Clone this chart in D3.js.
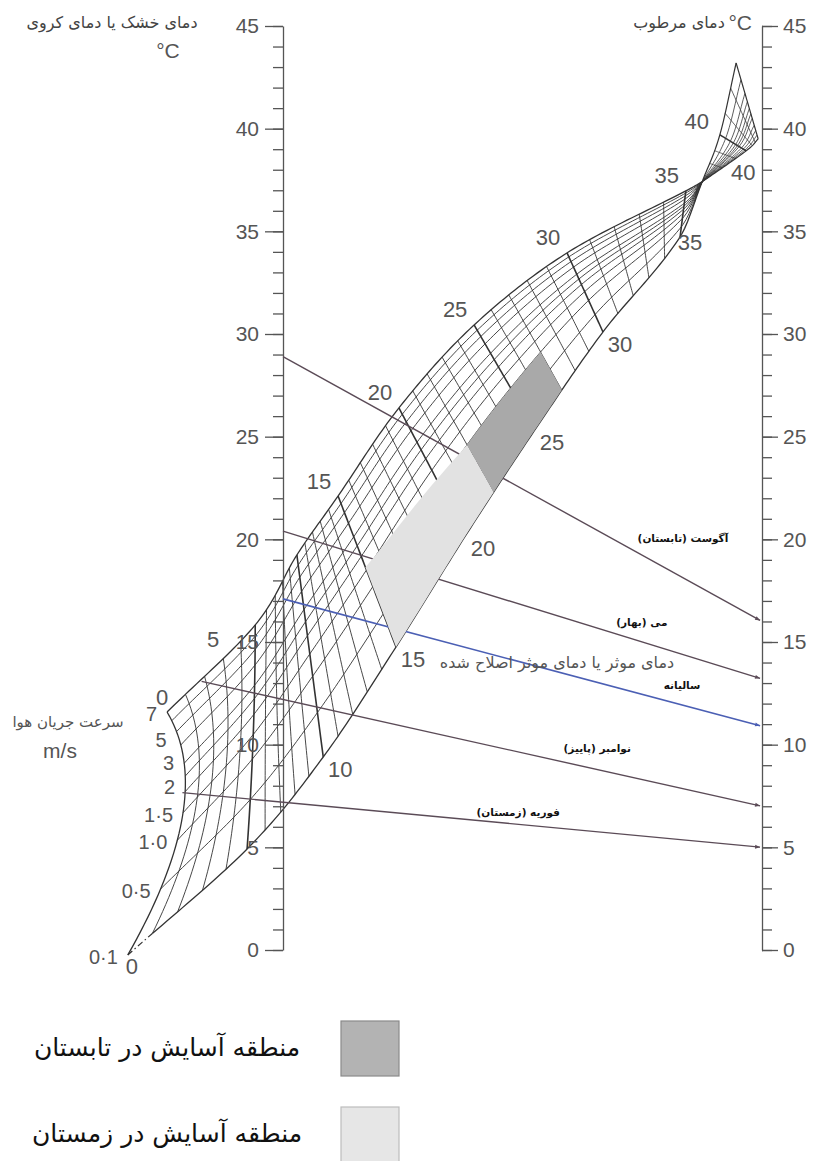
<!DOCTYPE html>
<html lang="fa">
<head>
<meta charset="UTF-8">
<title>نمودار دمای موثر اصلاح شده</title>
<script src="https://d3js.org/d3.v7.min.js"></script>
<style>
  body { margin: 0; background: #fff; overflow: hidden; }
  svg { display: block; }
  .axis path, .axis line { stroke: #555; stroke-width: 1.3; }
  .axis text, .num { font-family: "Liberation Sans", Arial, sans-serif; font-size: 21px; fill: #555; }
  .fa { font-family: "DejaVu Sans", sans-serif; direction: rtl; }
</style>
</head>
<body>
<svg id="chart" width="813" height="1161"></svg>
<script>
// ---------- data ----------
// both vertical scales in °C
const axisMajor = d3.range(0, 46, 5);
const axisMinor = d3.range(0, 46, 1);

// air speed curves (m/s) and where each sits across an ET line (0 = 0.1 m/s edge, 1 = 7 m/s edge)
const velocities  = [0.1, 0.5, 1.0, 1.5, 2.0, 2.5, 3.0, 4.0, 5.0, 6.0, 7.0];
const velocityPos = [0, 0.22, 0.40, 0.51, 0.60, 0.67, 0.73, 0.82, 0.89, 0.95, 1];
const velocityTicks  = [0.1, 0.5, 1.0, 1.5, 2, 3, 5, 7];
const velocityLabels = ["0·1", "0·5", "1·0", "1·5", "2", "3", "5", "7"];

// main band: effective temperature lines every 5°C, points as [u between scales, °C]
const etMajor = [0, 5, 10, 15, 20, 25, 30, 35, 36.5];
const etLow  = [[-0.324, -0.24], [-0.075, 4.92], [0.084, 9.40], [0.236, 14.76], [0.382, 20.21],
                [0.526, 25.33], [0.668, 30.10], [0.829, 34.73], [0.875, 37.41]];
const etHigh = [[-0.242, 11.59], [-0.058, 15.83], [0.029, 19.24], [0.115, 22.11], [0.242, 26.40],
                [0.399, 30.44], [0.593, 33.95], [0.841, 36.97], [0.875, 37.41]];
const etBend = [[-0.136, 7.45], [-0.058, 10.4], null, null, null, null, null, null, null];

// small tip above the point where all air speeds meet
const tipMajor = [36.5, 40, 43];
const tipLow  = [[0.875, 37.41], [0.912, 39.70], [0.946, 43.20]];
const tipHigh = [[0.875, 37.41], [0.967, 38.92], [0.992, 39.50]];

const etLabelsHigh = [0, 5, 15, 20, 25, 30, 35];
const etLabelsLow  = [0, 10, 15, 20, 25, 30, 35];

// month lines: dry bulb (left) to wet bulb (right)
const months  = ["آگوست (تابستان)", "می (بهار)", "سالیانه", "نوامبر (پاییز)", "فوریه (زمستان)"];
const dryBulb = [28.9, 20.4, 17.1, 12.2, 7.2];
const wetBulb = [16.0, 13.2, 10.9, 7.0, 5.0];

// comfort zones as [ET, air speed] corners
const summerZone = [[22, 0.1], [27, 0.1], [27, 1.0], [22, 1.0]];
const winterZone = [[15, 0.1], [22, 0.1], [22, 1.0], [15, 1.6]];

const legendItems = ["منطقه آسایش در تابستان", "منطقه آسایش در زمستان"];

// ---------- layout ----------
const lineStart = [0, 0, 0, -0.17, -0.21];
const monthLabelAt = [[0.835, 20.07], [0.749, 15.98], [0.833, 12.9], [0.656, 9.84], [0.491, 6.72]];
const lineColor = ["#5b4b57", "#5b4b57", "#4b5fb4", "#5b4b57", "#5b4b57"];
const velocityNudge = { 5: 6, 3: -2, 2: -7 };

const svg = d3.select("#chart");
const x = d3.scaleLinear().domain([0, 1]).range([283, 762]);
const y = d3.scaleLinear().domain([0, 45]).range([950, 26]);
const fOf = d3.scaleLinear().domain(velocities).range(velocityPos);
const toPx = p => [x(p[0]), y(p[1])];

const band = { E: etMajor, low: etLow, high: etHigh, bend: etBend };
const tip  = { E: tipMajor, low: tipLow, high: tipHigh, bend: null };

function majorNode(fam, i, f) {
  const L = fam.low[i], U = fam.high[i];
  const C = fam.bend && fam.bend[i] ? fam.bend[i] : [(L[0] + U[0]) / 2, (L[1] + U[1]) / 2];
  const a = (1 - f) * (1 - f), b = 2 * f * (1 - f), c = f * f;
  return [a * L[0] + b * C[0] + c * U[0], a * L[1] + b * C[1] + c * U[1]];
}

function meshPoint(fam, et, f) {
  const E = fam.E;
  const P = E.map((_, i) => majorNode(fam, i, f));
  let i = Math.min(Math.max(d3.bisectRight(E, et) - 1, 0), E.length - 2);
  const h = E[i + 1] - E[i], s = (et - E[i]) / h;
  const tan = k => {
    const k0 = Math.max(0, k - 1), k1 = Math.min(E.length - 1, k + 1);
    return [0, 1].map(d => (P[k1][d] - P[k0][d]) / (E[k1] - E[k0]));
  };
  const m0 = tan(i), m1 = tan(i + 1);
  const s2 = s * s, s3 = s2 * s;
  const h00 = 2 * s3 - 3 * s2 + 1, h10 = s3 - 2 * s2 + s, h01 = -2 * s3 + 3 * s2, h11 = s3 - s2;
  return [0, 1].map(d => h00 * P[i][d] + h10 * h * m0[d] + h01 * P[i + 1][d] + h11 * h * m1[d]);
}

const line = d3.line();
const etPath = (fam, et) => line(d3.range(0, 41).map(k => toPx(meshPoint(fam, et, k / 40))));
function vPath(fam, v, e0, e1) {
  const f = fOf(v), n = Math.ceil((e1 - e0) / 0.2);
  return line(d3.range(n + 1).map(k => toPx(meshPoint(fam, e0 + (e1 - e0) * k / n, f))));
}

// ---------- mesh ----------
const mesh = svg.append("g").attr("fill", "none").attr("stroke", "#333");

d3.range(0, 37).forEach(et => {
  mesh.append("path").attr("d", etPath(band, et))
    .attr("stroke-width", et === 0 ? 1.3 : (et % 5 === 0 ? 1.6 : 0.9));
});
d3.range(37, 44).forEach(et => {
  mesh.append("path").attr("d", etPath(tip, et))
    .attr("stroke-width", et === 40 ? 1.5 : (et === 43 ? 1.2 : 0.8));
});
velocities.forEach(v => {
  const edge = v === 0.1 || v === 7;
  mesh.append("path").attr("d", vPath(band, v, v === 0.1 ? 1 : 0, 36.5))
    .attr("stroke-width", edge ? 1.3 : 0.9);
  mesh.append("path").attr("d", vPath(tip, v, 36.5, 43))
    .attr("stroke-width", edge ? 1.2 : 0.8);
});
mesh.append("path").attr("d", vPath(band, 0.1, 0, 1))
  .attr("stroke-width", 1.2).attr("stroke-dasharray", "6,3,1.5,3");

// ---------- axes ----------
function axis(gen, ux, size, labels, pad) {
  const g = svg.append("g").attr("class", "axis").attr("transform", `translate(${x(ux)},0)`)
    .call(gen(y).tickValues(labels ? axisMajor : axisMinor).tickSize(size).tickSizeOuter(0)
      .tickPadding(pad).tickFormat(labels ? d3.format("d") : ""));
  if (labels) g.select(".domain").remove();
}
axis(d3.axisLeft, 0, 10, false, 0);
axis(d3.axisLeft, 0, 18, true, 6);
axis(d3.axisRight, 1, 10, false, 0);
axis(d3.axisRight, 1, 16, true, 5);

// ---------- month lines ----------
const defs = svg.append("defs");
["#5b4b57", "#4b5fb4"].forEach((c, i) => {
  defs.append("marker").attr("id", "arr" + i).attr("viewBox", "0 0 10 10")
    .attr("refX", 10).attr("refY", 5).attr("markerWidth", 7).attr("markerHeight", 5)
    .attr("markerUnits", "userSpaceOnUse").attr("orient", "auto")
    .append("path").attr("d", "M0,1L10,5L0,9Z").attr("fill", c);
});
months.forEach((m, i) => {
  const t = u => dryBulb[i] + (wetBulb[i] - dryBulb[i]) * u;
  svg.append("path")
    .attr("d", line([toPx([lineStart[i], t(lineStart[i])]), toPx([0.996, t(0.996)])]))
    .attr("stroke", lineColor[i]).attr("stroke-width", i === 2 ? 1.6 : 1.4).attr("fill", "none")
    .attr("marker-end", `url(#arr${i === 2 ? 1 : 0})`);
});

// ---------- comfort zones ----------
function zonePath(corners) {
  const pts = [];
  corners.forEach((c, i) => {
    const n = corners[(i + 1) % corners.length];
    for (let k = 0; k < 12; k++) {
      const s = k / 12;
      const et = c[0] + (n[0] - c[0]) * s;
      const f = fOf(c[1]) + (fOf(n[1]) - fOf(c[1])) * s;
      pts.push(toPx(meshPoint(band, et, f)));
    }
  });
  return line(pts) + "Z";
}
svg.append("path").attr("d", zonePath(winterZone)).attr("fill", "#e2e2e2");
svg.append("path").attr("d", zonePath(summerZone)).attr("fill", "#a9a9a9");

// ---------- grid labels ----------
const lab = svg.append("g").attr("class", "num").attr("text-anchor", "middle")
  .attr("dominant-baseline", "central");
const highOff = { 0: [-5, -15], 5: [-42, 15] };
const lowOff = { 0: [4, 12], 35: [10, 6] };
etLabelsHigh.forEach(et => {
  const p = toPx(majorNode(band, etMajor.indexOf(et), 1)), o = highOff[et] || [-19, -15];
  lab.append("text").attr("x", p[0] + o[0]).attr("y", p[1] + o[1]).style("font-size", "22px").text(et);
});
etLabelsLow.forEach(et => {
  const p = toPx(majorNode(band, etMajor.indexOf(et), 0)), o = lowOff[et] || [17, 13];
  lab.append("text").attr("x", p[0] + o[0]).attr("y", p[1] + o[1]).style("font-size", "22px").text(et);
});
const t40a = toPx(majorNode(tip, 1, 0)), t40b = toPx(majorNode(tip, 1, 1));
lab.append("text").attr("x", t40a[0] - 23).attr("y", t40a[1] - 13).style("font-size", "22px").text(40);
lab.append("text").attr("x", t40b[0] - 3).attr("y", t40b[1] + 22).style("font-size", "22px").text(40);

velocityTicks.forEach((v, i) => {
  const p = toPx(majorNode(band, 0, fOf(v)));
  lab.append("text").attr("text-anchor", "end").attr("x", p[0] - 10)
    .attr("y", p[1] + 2 + (velocityNudge[v] || 0))
    .style("font-size", "20px").text(velocityLabels[i]);
});

// ---------- titles ----------
const fa = (tx, px, py, size, fill, weight) => svg.append("text").attr("class", "fa")
  .attr("x", px).attr("y", py).attr("text-anchor", "middle").attr("dominant-baseline", "central")
  .attr("font-size", size).attr("fill", fill).attr("font-weight", weight || "normal").text(tx);

fa("دمای خشک یا دمای کروی", 112, 22, 16, "#444");
svg.append("text").attr("class", "num").attr("x", 168).attr("y", 50)
  .attr("text-anchor", "middle").attr("dominant-baseline", "central").text("°C");
fa("دمای مرطوب", 679, 22, 16, "#444");
svg.append("text").attr("class", "num").attr("x", 752).attr("y", 22)
  .attr("text-anchor", "end").attr("dominant-baseline", "central").text("°C");
fa("سرعت جریان هوا", 68, 722, 15, "#555");
svg.append("text").attr("class", "num").attr("x", 60).attr("y", 750)
  .attr("text-anchor", "middle").attr("dominant-baseline", "central").text("m/s");
fa("دمای موثر یا دمای موثر اصلاح شده", x(0.572), y(13.98), 16, "#555");

months.forEach((m, i) => {
  const p = toPx(monthLabelAt[i]);
  fa(m, p[0], p[1], 10.5, "#111", "bold");
});

// ---------- legend ----------
const legendFill = ["#b3b3b3", "#e6e6e6"], legendStroke = ["#8a8a8a", "#bdbdbd"];
legendItems.forEach((t, i) => {
  const top = 1021 + i * 86;
  svg.append("rect").attr("x", 341).attr("y", top).attr("width", 58).attr("height", 55)
    .attr("fill", legendFill[i]).attr("stroke", legendStroke[i]).attr("stroke-width", 1.2);
  fa(t, 167, top + 26, 25, "#111");
});
</script>
</body>
</html>
